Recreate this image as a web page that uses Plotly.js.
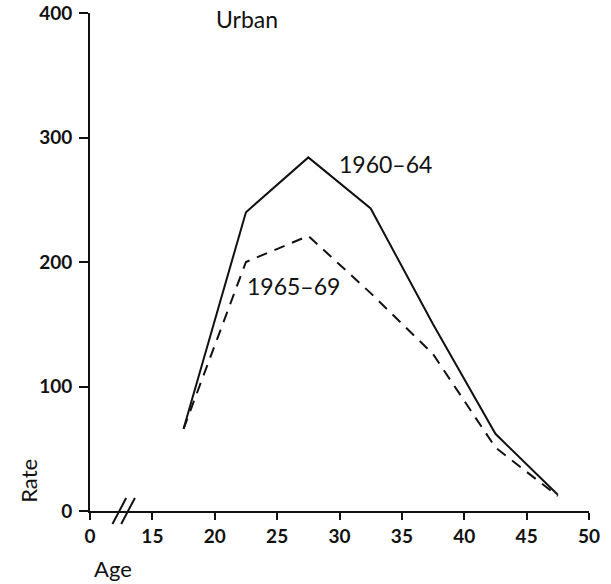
<!DOCTYPE html>
<html>
<head>
<meta charset="utf-8">
<script src="https://cdn.plot.ly/plotly-3.0.1.min.js"></script>
<style>html,body{margin:0;padding:0;background:#fff;}#chart{width:611px;height:584px;}</style>
</head>
<body>
<div id="chart"></div>
<script>
// Age-group midpoints (years)
const ages = [17.5, 22.5, 27.5, 32.5, 37.5, 42.5, 47.5];
// Rates
const rate1960_64 = [66, 240, 284, 243, 150, 62, 13];
const rate1965_69 = [66, 200, 221, 175, 126, 51, 12];
// Axis ticks (value 10 stands for the broken-axis origin "0")
const xTickVals = [10, 15, 20, 25, 30, 35, 40, 45, 50];
const xTickText = ['0', '15', '20', '25', '30', '35', '40', '45', '50'];
const yTickVals = [0, 100, 200, 300, 400];
const seriesNames = ['1960–64', '1965–69'];

const FONT = 'Lato, "Open Sans", sans-serif';

const traces = [
  {x: ages, y: rate1960_64, name: seriesNames[0], mode: 'lines', type: 'scatter',
   line: {color: '#111', width: 2}, hoverinfo: 'skip'},
  {x: ages, y: rate1965_69, name: seriesNames[1], mode: 'lines', type: 'scatter',
   line: {color: '#111', width: 2, dash: '11px,8px'}, hoverinfo: 'skip'}
];

const layout = {
  width: 611, height: 584,
  margin: {l: 90, r: 22, t: 13, b: 73},
  paper_bgcolor: '#fff', plot_bgcolor: '#fff',
  showlegend: false,
  font: {family: FONT, color: '#111'},
  xaxis: {
    range: [10, 50], tickvals: xTickVals, ticktext: xTickText,
    showgrid: false, zeroline: false, showline: true, linecolor: '#111', linewidth: 2,
    ticks: 'outside', ticklen: 7, tickwidth: 2, tickcolor: '#111',
    tickfont: {family: FONT, size: 19, color: '#111', weight: 'bold'},
    fixedrange: true
  },
  yaxis: {
    range: [0, 400], tickvals: yTickVals,
    showgrid: false, zeroline: false, showline: true, linecolor: '#111', linewidth: 2,
    ticks: 'outside', ticklen: 9, tickwidth: 2, tickcolor: '#111',
    tickfont: {family: FONT, size: 19, color: '#111', weight: 'bold'},
    ticklabelstandoff: 3,
    fixedrange: true
  },
  shapes: [
    {type: 'line', xref: 'x', yref: 'paper', x0: 11.8, x1: 12.9, y0: -0.026, y1: 0.026,
     line: {color: '#111', width: 2}},
    {type: 'line', xref: 'x', yref: 'paper', x0: 12.5, x1: 13.6, y0: -0.026, y1: 0.026,
     line: {color: '#111', width: 2}}
  ],
  annotations: [
    {text: 'Urban', xref: 'x', yref: 'y', x: 22.6, y: 395, showarrow: false,
     font: {family: FONT, size: 23, color: '#111'}},
    {text: seriesNames[0], xref: 'x', yref: 'y', x: 33.7, y: 279, showarrow: false,
     font: {family: FONT, size: 23, color: '#111'}},
    {text: seriesNames[1], xref: 'x', yref: 'y', x: 26.35, y: 181, showarrow: false,
     font: {family: FONT, size: 23, color: '#111'}},
    {text: 'Rate', xref: 'paper', yref: 'paper', x: -0.125, y: 0.06, textangle: -90,
     showarrow: false, xanchor: 'center', yanchor: 'middle',
     font: {family: FONT, size: 22, color: '#111'}},
    {text: 'Age', xref: 'paper', yref: 'paper', x: 0.005, y: -0.115, xanchor: 'left', yanchor: 'middle',
     showarrow: false, font: {family: FONT, size: 22, color: '#111'}}
  ]
};

Plotly.newPlot('chart', traces, layout, {staticPlot: true, displayModeBar: false});
</script>
</body>
</html>
